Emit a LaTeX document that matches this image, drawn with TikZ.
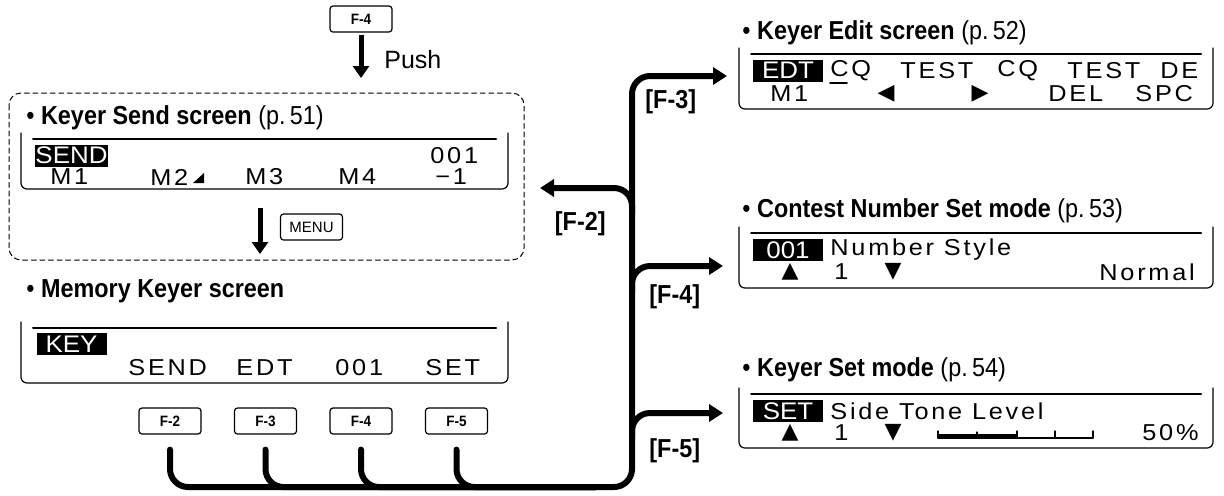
\documentclass[tikz,border=0pt]{standalone}
\usepackage{fontspec}
\setmainfont{Liberation Sans}
\newfontfamily\headfont[FakeStretch=0.9]{Liberation Sans}
\newfontfamily\lcdfont[FakeStretch=1.1,LetterSpace=12]{Liberation Sans}
\newfontfamily\invfont[FakeStretch=1.08]{Liberation Sans}
\newfontfamily\symfont{DejaVu Sans}
\usetikzlibrary{calc,arrows.meta}

% LCD frame: left, right, top, bottom
\newcommand{\lcdframe}[4]{%
  \draw[frame] (#1,#3) -- (#1,#4) -- (#2,#4) -- (#2,#3);
  \draw[topline] ($(#1,#3)+(12,6)$) -- ($(#2,#3)+(-12,6)$);}

\begin{document}
\begin{tikzpicture}[x=0.5pt,y=-0.5pt,line join=round,line cap=round,
  frame/.style={line width=0.6pt,rounded corners=3pt},
  topline/.style={line width=1pt},
  fkey/.style={draw,line width=0.6pt,rounded corners=1.5pt,minimum width=31pt,minimum height=13pt,inner sep=0pt,font=\headfont\bfseries\fontsize{7.5}{8}\selectfont},
  inv/.style={fill=black,text=white,minimum width=35pt,minimum height=11pt,inner sep=0pt,font=\invfont\fontsize{12}{12}\selectfont},
  lcd/.style={anchor=west,inner sep=0pt,font=\lcdfont\fontsize{11.5}{12}\selectfont},
  sym/.style={inner sep=0pt,font=\symfont\fontsize{11}{12}\selectfont},
  head/.style={anchor=west,inner sep=0pt,font=\headfont\fontsize{13}{15}\selectfont},
  flabel/.style={inner sep=0pt,font=\headfont\bfseries\fontsize{13}{15}\selectfont},
  push/.style={line width=2.5pt,line cap=butt,-{Triangle[length=6pt,width=8pt]}},
  bus/.style={line width=3pt,rounded corners=9pt},
  tip/.style={-{Triangle[length=7pt,width=8.5pt]}}]
\useasboundingbox (0,0) rectangle (1224,495);
\def\busx{632}
\def\busy{487}

% top key and Keyer Send screen
\node[fkey] (topkey) at (361,19) {F-4};
\coordinate (pushend) at (361,78);
\draw[push] ([yshift=-1pt]topkey.south) -- (pushend);
\node[anchor=west,inner sep=0pt,font=\fontsize{12.5}{14}\selectfont] (pushtxt) at (384,60) {Push};
\draw[dashed,line width=0.5pt,dash pattern=on 2.5pt off 1.8pt,rounded corners=6pt] (9,93) rectangle (524,260);
\node[head] (hsend) at (26,118) {• \textbf{Keyer Send screen} (p.\,51)};
\lcdframe{21}{508}{133}{189}
\node[inv] (send) at (71.5,155.5) {SEND};
\node[lcd] (scnt) at (430,156) {001};
\node[lcd] (sm1) at (50,177) {M1};
\node[lcd] (sm2) at (150,177) {M2};
\fill (193,183) -- (204,183) -- (204,173) -- cycle;
\node[lcd] (sm3) at (245,177) {M3};
\node[lcd] (sm4) at (338,177) {M4};
\node[lcd] (sm5) at (435,177) {−1};
\node[fkey,font=\fontsize{7.5}{8}\selectfont] (menu) at (311.5,227) {MENU};
\coordinate (menutop) at (260,208);
\coordinate (menuend) at (260,254);
\draw[push] (menutop) -- (menuend);

% Memory Keyer screen
\node[head] (hkey) at (26,291) {• \textbf{Memory Keyer screen}};
\lcdframe{21}{508}{322}{383}
\node[inv] (key) at (71.5,344) {KEY};
\node[lcd] (ksend) at (128,368) {SEND};
\node[lcd] (kedt) at (236,368) {EDT};
\node[lcd] (kcnt) at (335,368) {001};
\node[lcd] (kset) at (425,368) {SET};
\node[fkey] (k2) at (170,421) {F-2};
\node[fkey] (k3) at (265.5,421) {F-3};
\node[fkey] (k4) at (361,421) {F-4};
\node[fkey] (k5) at (456.5,421) {F-5};

% bus lines
\coordinate (busbot) at (\busx,\busy);
\coordinate (busjoin) at (\busx-36,\busy);
\coordinate (f3tip) at (727,76);
\coordinate (f2tip) at (540,188);
\coordinate (f4tip) at (723,266);
\coordinate (f5tip) at (723,413);
\draw[bus,tip] ([yshift=-7.5pt]k2.south) |- (busbot) -- (busbot |- f3tip) -- (f3tip);
\foreach \k in {k3,k4,k5}
  \draw[bus] ([yshift=-7.5pt]\k.south) |- (busjoin);
\draw[bus,tip] ($(busbot |- f2tip)+(0,26)$) -- (busbot |- f2tip) -- (f2tip);
\draw[bus,tip] ($(busbot |- f4tip)+(0,26)$) -- (busbot |- f4tip) -- (f4tip);
\draw[bus,tip] ($(busbot |- f5tip)+(0,26)$) -- (busbot |- f5tip) -- (f5tip);
\node[flabel,anchor=west] (lf3) at (645,102) {[F-3]};
\node[flabel,anchor=east] (lf2) at (606,224) {[F-2]};
\node[flabel,anchor=west] (lf4) at (649,297) {[F-4]};
\node[flabel,anchor=west] (lf5) at (649,451) {[F-5]};

% Keyer Edit screen
\node[head] (hedt) at (742,33) {• \textbf{Keyer Edit screen} (p.\,52)};
\lcdframe{739}{1213}{48}{109}
\node[inv] (edt) at (788,70.5) {EDT};
\node[lcd] (ecq1) at (830,70.5) {CQ};
\draw[line width=0.8pt] (830,83) -- (847,83);
\node[lcd] (etest1) at (900,70.5) {TEST};
\node[lcd] (ecq2) at (997,70.5) {CQ};
\node[lcd] (etest2) at (1067,70.5) {TEST};
\node[lcd] (ede) at (1160,70.5) {DE};
\node[lcd] (em1) at (770,94) {M1};
\node[sym] (eleft) at (886,94) {◀};
\node[sym] (eright) at (980,94) {▶};
\node[lcd] (edel) at (1048,94) {DEL};
\node[lcd] (espc) at (1135,94) {SPC};

% Contest Number Set mode
\node[head] (hcnt) at (742,211) {• \textbf{Contest Number Set mode} (p.\,53)};
\lcdframe{739}{1213}{227}{288}
\node[inv] (cnt) at (788,250) {001};
\node[lcd] (cstyle) at (830,250) {Number Style};
\node[sym] (cup) at (790,272) {▲};
\node[lcd] (cone) at (834,272) {1};
\node[sym] (cdown) at (893,272) {▼};
\node[lcd] (cnorm) at (1099,272) {Normal};

% Keyer Set mode
\node[head] (hset) at (742,370) {• \textbf{Keyer Set mode} (p.\,54)};
\lcdframe{739}{1213}{388}{448}
\node[inv] (set) at (788,411) {SET};
\node[lcd] (stone) at (830,411) {Side Tone Level};
\node[sym] (sup) at (790,433) {▲};
\node[lcd] (sone) at (834,433) {1};
\node[sym] (sdown) at (893,433) {▼};
\draw[line width=0.6pt] (938,438) -- (1093,438);
\fill (938,434) rectangle (1017,438);
\foreach \t in {938,1017,1055,1093}
  \draw[line width=0.6pt] (\t,438) -- (\t,431);
\draw[line width=0.6pt] (977,434) -- (977,432);
\node[lcd] (sper) at (1142,433) {50\%};
\end{tikzpicture}
\end{document}
